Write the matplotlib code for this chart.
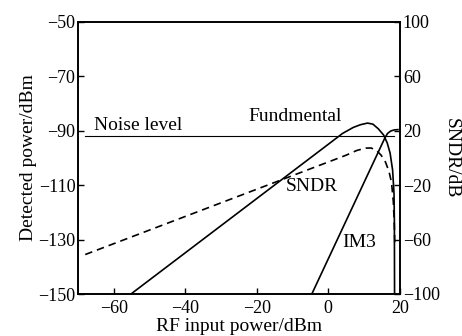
import matplotlib
matplotlib.use("Agg")
import matplotlib.pyplot as plt

# RF input power (dBm) and detected powers (dBm)
fund_x = [-55.2, 0.0, 4.0, 7.0, 9.0, 11.0, 12.5, 14.0, 15.5, 16.5, 17.3, 18.0, 18.4, 18.5, 18.55]
fund_y = [-150.0, -95.0, -91.0, -88.8, -87.8, -87.2, -87.6, -89.3, -91.6, -94.5, -98.2, -104.4, -113.0, -123.0, -150.0]

im3_x = [-4.6, 15.9, 16.6, 17.5, 18.5, 19.5]
im3_y = [-150.0, -92.5, -91.0, -90.1, -89.7, -89.6]

noise_x = [-68.0, 18.5]
noise_y = [-92.0, -92.0]

# SNDR (dB), right axis
sndr_x = [-68.0, -12.0, 0.0, 5.0, 8.0, 10.5, 12.0, 13.5, 14.8, 16.0, 17.0, 17.7, 18.2, 18.5, 18.6]
sndr_y = [-71.0, -15.0, -3.0, 2.0, 5.5, 7.2, 7.3, 5.5, 2.0, -3.0, -10.0, -18.0, -32.0, -50.0, -62.0]

left_ticks = [-150, -130, -110, -90, -70, -50]
right_ticks = [-100, -60, -20, 20, 60, 100]
x_ticks = [-60, -40, -20, 0, 20]

plt.rcParams["font.family"] = ["Liberation Serif", "DejaVu Serif"]
plt.rcParams["font.size"] = 13

fig = plt.figure(figsize=(4.62, 3.36), dpi=100)
ax = fig.add_axes([0.169, 0.125, 0.697, 0.810])
ax2 = ax.twinx()

lw = 1.2
ax.plot(fund_x, fund_y, color="black", lw=lw)
ax.plot(im3_x, im3_y, color="black", lw=lw)
ax.plot(noise_x, noise_y, color="black", lw=0.8)
ax2.plot(sndr_x, sndr_y, color="black", lw=lw, linestyle=(0, (4.5, 3)))

ax.set_xlim(-70, 20.1)
ax.set_ylim(-150, -50)
ax2.set_ylim(-100, 100)
ax.set_xticks(x_ticks)
ax.set_yticks(left_ticks)
ax2.set_yticks(right_ticks)

for a in (ax, ax2):
    a.tick_params(direction="in", length=4, width=1, pad=2)
    for s in a.spines.values():
        s.set_linewidth(1.2)
ax.tick_params(axis="x", pad=4)

ax.set_xlabel("RF input power/dBm", fontsize=14)
ax.xaxis.set_label_coords(0.5, -0.088)
ax.set_ylabel("Detected power/dBm", fontsize=14, labelpad=1)
ax2.set_ylabel("SNDR/dB", fontsize=14, rotation=-90, labelpad=14)

ax.text(-65.5, -91.2, "Noise level", va="bottom", ha="left", fontsize=14)
ax.text(-22.3, -87.8, "Fundmental", va="bottom", ha="left", fontsize=14)
ax.text(-11.9, -110.5, "SNDR", va="center", ha="left", fontsize=14)
ax.text(4.0, -131.0, "IM3", va="center", ha="left", fontsize=14)

fig.savefig("out.png", dpi=100)
